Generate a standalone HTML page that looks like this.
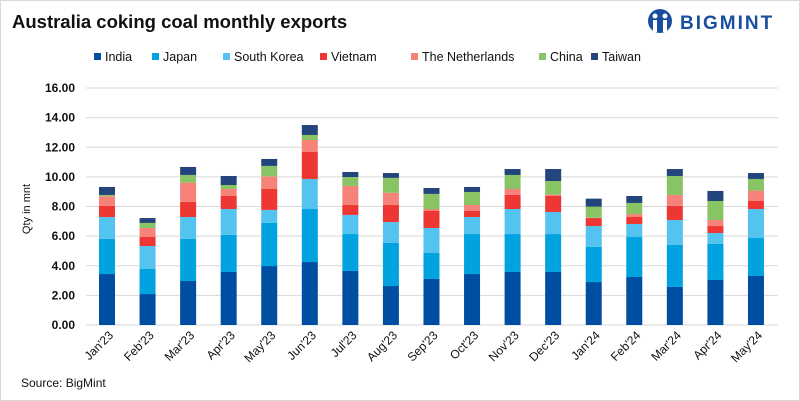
<!DOCTYPE html>
<html><head><meta charset="utf-8"><style>
body{margin:0;background:#fff;font-family:"Liberation Sans",Arial,sans-serif}
#wrap{position:relative;width:798px;height:399px;border:1px solid #d9d9d9;overflow:hidden}
</style></head><body>
<div id="wrap">
<svg id="c" width="798" height="399">
<text x="11" y="27" font-size="18.5" font-weight="bold" fill="#111">Australia coking coal monthly exports</text>
<g>
<circle cx="659" cy="20" r="12" fill="#1a4fa0"/>
<circle cx="654" cy="15" r="2.5" fill="#fff"/><circle cx="664" cy="15" r="2.5" fill="#fff"/>
<rect x="652" y="19" width="4" height="12" fill="#fff"/><rect x="662" y="19" width="4" height="12" fill="#fff"/>
<text x="679" y="28" font-size="19" font-weight="bold" fill="#1a4fa0" letter-spacing="2">BIGMINT</text>
</g>
<g id="legend"></g>
<text transform="translate(29,208) rotate(-90)" text-anchor="middle" font-size="11" fill="#111">Qty in mnt</text>
<g id="grid"></g><g id="bars"></g><g id="xl"></g>
<text x="20" y="386" font-size="12" fill="#111">Source: BigMint</text>
</svg></div>
<script>
const categories=["Jan'23","Feb'23","Mar'23","Apr'23","May'23","Jun'23","Jul'23","Aug'23","Sep'23","Oct'23","Nov'23","Dec'23","Jan'24","Feb'24","Mar'24","Apr'24","May'24"];
const seriesNames=["India","Japan","South Korea","Vietnam","The Netherlands","China","Taiwan"];
const india=[3.44,2.09,2.97,3.58,3.98,4.25,3.65,2.63,3.11,3.44,3.58,3.58,2.90,3.24,2.57,3.04,3.31];
const japan=[2.37,1.69,2.84,2.50,2.91,3.58,2.49,2.91,1.75,2.70,2.56,2.56,2.37,2.70,2.83,2.43,2.56];
const southKorea=[1.48,1.55,1.48,1.75,0.88,2.03,1.29,1.41,1.69,1.15,1.69,1.49,1.41,0.88,1.69,0.74,1.96];
const vietnam=[0.75,0.61,1.02,0.88,1.41,1.82,0.67,1.15,1.15,0.41,0.95,1.08,0.54,0.47,0.95,0.47,0.54];
const netherlands=[0.65,0.61,1.30,0.47,0.86,0.81,1.29,0.83,0.13,0.40,0.40,0.09,0.02,0.20,0.74,0.41,0.70];
const china=[0.09,0.34,0.52,0.27,0.70,0.34,0.60,1.00,1.02,0.88,0.95,0.92,0.75,0.75,1.28,1.28,0.79];
const taiwan=[0.54,0.33,0.54,0.61,0.47,0.67,0.34,0.33,0.40,0.34,0.40,0.81,0.54,0.47,0.47,0.68,0.40];
const yTicks=[0,2,4,6,8,10,12,14,16];
const colors=["#004ea2","#00a2e0","#55c3f0","#ee3733","#f6827a","#88c464","#23447c"];
const series=[india,japan,southKorea,vietnam,netherlands,china,taiwan];
const NS="http://www.w3.org/2000/svg";
const y0=324,pxPer=(324-87)/16;
const Y=v=>y0-v*pxPer;
const X=i=>106+i*40.56;
function mk(tag,attrs,parent){const e=document.createElementNS(NS,tag);for(const k in attrs)e.setAttribute(k,attrs[k]);parent.appendChild(e);return e;}
const grid=document.getElementById('grid');
yTicks.forEach(t=>{
 const l=mk('line',{x1:85,x2:777,y1:Y(t),y2:Y(t),stroke:'#d9d9d9','stroke-width':1},grid);
 
 
 const tx=mk('text',{x:74,y:Y(t)+4,'text-anchor':'end','font-size':12,'font-weight':'bold',fill:'#111'},grid);
 tx.textContent=t.toFixed(2);
 
 
});
const bars=document.getElementById('bars');
categories.forEach((c,i)=>{
 let cum=0;
 series.forEach((s,k)=>{
  const v=s[i];
  const r=mk('rect',{x:X(i)-8,width:16,y:Y(cum+v),height:v*pxPer,fill:colors[k]},bars);
  
  
  cum+=v;
 });
 const t=mk('text',{transform:`translate(${X(i)+7},${335}) rotate(-45)`,'text-anchor':'end','font-size':12,fill:'#111'},document.getElementById('xl'));
 t.textContent=c;
 
 
});
const lg=document.getElementById('legend');
const lx=[93,151,222,319,410,538,590];
seriesNames.forEach((n,k)=>{
 const g=mk('g',{},lg);
 
 
 mk('rect',{x:lx[k],y:52,width:7,height:7,fill:colors[k]},g);
 const t=mk('text',{x:lx[k]+11,y:60,'font-size':12.5,fill:'#111'},g);
 t.textContent=n;
});
</script>
</body></html>
